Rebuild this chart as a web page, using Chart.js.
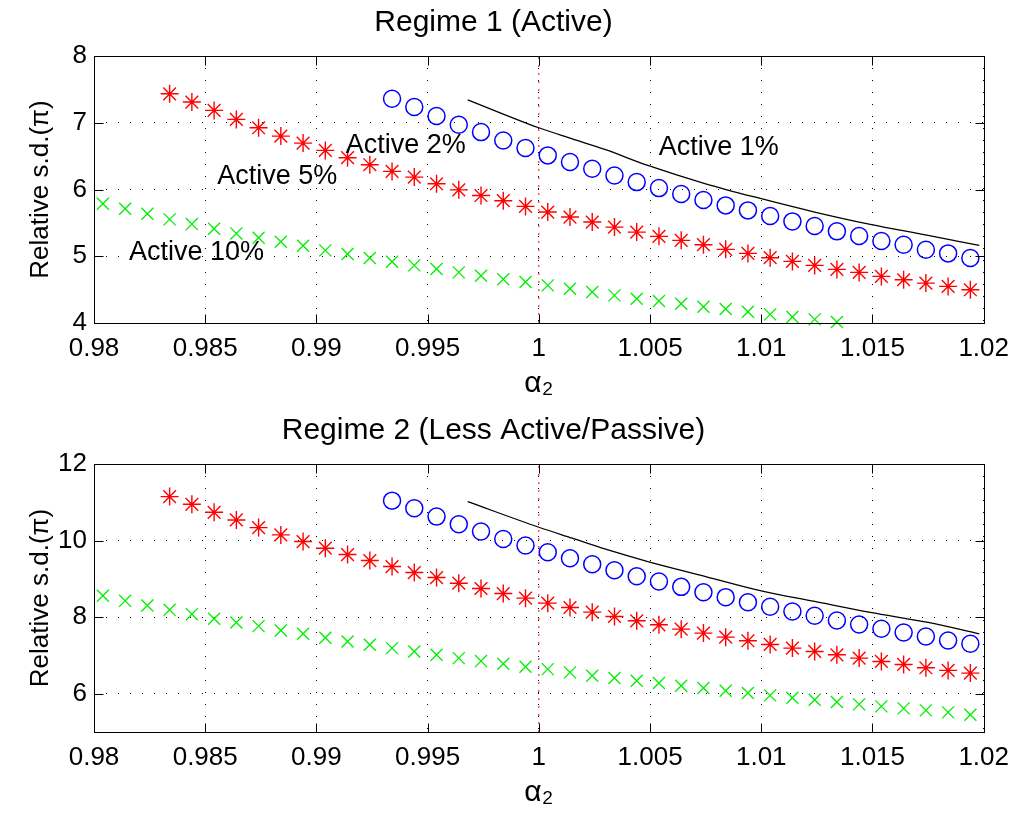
<!DOCTYPE html>
<html><head><meta charset="utf-8">
<script src="https://cdn.jsdelivr.net/npm/chart.js@4/dist/chart.umd.min.js"></script>
<style>
html,body{margin:0;padding:0;background:#fff;width:1019px;height:819px;overflow:hidden}
canvas{position:absolute;left:0}
#c1{top:0}
#c2{top:408px}
</style></head><body>
<canvas id="c1" width="1019" height="408"></canvas>
<canvas id="c2" width="1019" height="411"></canvas>
<script>
// ---- data ----
const alphaX10 = [0.9804,0.9814,0.9824,0.9834,0.9844,0.9854,0.9864,0.9874,0.9884,0.9894,0.9904,0.9914,0.9924,0.9934,0.9944,0.9954,0.9964,0.9974,0.9984,0.9994,1.0004,1.0014,1.0024,1.0034,1.0044,1.0054,1.0064,1.0074,1.0084,1.0094,1.0104,1.0114,1.0124,1.0134,1.0144,1.0154,1.0164,1.0174,1.0184,1.0194];
const alphaX5 = [0.9834,0.9844,0.9854,0.9864,0.9874,0.9884,0.9894,0.9904,0.9914,0.9924,0.9934,0.9944,0.9954,0.9964,0.9974,0.9984,0.9994,1.0004,1.0014,1.0024,1.0034,1.0044,1.0054,1.0064,1.0074,1.0084,1.0094,1.0104,1.0114,1.0124,1.0134,1.0144,1.0154,1.0164,1.0174,1.0184,1.0194];
const alphaX2 = [0.9934,0.9944,0.9954,0.9964,0.9974,0.9984,0.9994,1.0004,1.0014,1.0024,1.0034,1.0044,1.0054,1.0064,1.0074,1.0084,1.0094,1.0104,1.0114,1.0124,1.0134,1.0144,1.0154,1.0164,1.0174,1.0184,1.0194];
const alphaX1 = [0.9968,1.0000,1.0015,1.0030,1.0049,1.0075,1.0100,1.0124,1.0149,1.0175,1.0198];
const alphaRef = [1, 1];

// Regime 1 (Active)
const r1Active10 = [5.787,5.712,5.637,5.552,5.482,5.412,5.342,5.278,5.218,5.158,5.088,5.033,4.973,4.918,4.863,4.808,4.758,4.708,4.655,4.615,4.564,4.514,4.464,4.414,4.364,4.329,4.289,4.244,4.209,4.169,4.129,4.089,4.054,4.015];
const r1Active5 = [7.434,7.310,7.185,7.050,6.925,6.800,6.695,6.586,6.476,6.371,6.271,6.186,6.086,5.995,5.910,5.832,5.747,5.662,5.587,5.512,5.437,5.362,5.298,5.238,5.173,5.103,5.043,4.978,4.923,4.863,4.803,4.758,4.698,4.648,4.598,4.548,4.498];
const r1Active2 = [7.359,7.235,7.100,6.970,6.860,6.735,6.621,6.511,6.411,6.311,6.211,6.111,6.021,5.932,5.842,5.762,5.687,5.602,5.522,5.452,5.373,5.303,5.228,5.173,5.098,5.043,4.973];
const r1Active1 = [7.344,6.925,6.760,6.596,6.361,6.086,5.862,5.662,5.477,5.313,5.163];
const r1Ref = [4, 8];

// Regime 2 (Less Active/Passive)
const r2Active10 = [8.557,8.426,8.304,8.191,8.078,7.957,7.861,7.765,7.652,7.565,7.461,7.365,7.278,7.191,7.104,7.017,6.930,6.852,6.783,6.705,6.643,6.557,6.470,6.409,6.339,6.278,6.209,6.148,6.078,6.017,5.957,5.896,5.843,5.783,5.722,5.670,5.617,5.565,5.513,5.452];
const r2Active5 = [11.148,10.948,10.739,10.539,10.339,10.148,9.974,9.800,9.635,9.478,9.322,9.165,9.035,8.887,8.748,8.617,8.496,8.365,8.252,8.130,8.017,7.904,7.800,7.687,7.583,7.478,7.383,7.287,7.191,7.104,7.017,6.930,6.843,6.765,6.678,6.609,6.539];
const r2Active2 = [11.043,10.843,10.626,10.426,10.235,10.043,9.870,9.696,9.539,9.383,9.226,9.070,8.930,8.791,8.652,8.522,8.391,8.270,8.148,8.035,7.913,7.809,7.696,7.600,7.496,7.391,7.304];
const r2Active1 = [11.017,10.348,10.061,9.774,9.452,9.061,8.687,8.409,8.122,7.861,7.565];
const r2Ref = [5, 12];

// ticks
const xTicks = [0.98,0.985,0.99,0.995,1,1.005,1.01,1.015,1.02];
const xTickLabels = ['0.98','0.985','0.99','0.995','1','1.005','1.01','1.015','1.02'];
const r1YTicks = [4,5,6,7,8];
const r2YTicks = [6,8,10,12];

// in-plot labels (Regime 1)
const noteTexts = ['Active 1%','Active 2%','Active 5%','Active 10%'];
const noteX = [1.00809, 0.99402, 0.98824, 0.98461];
const noteY = [6.622, 6.652, 6.187, 5.049];

const titles = ['Regime 1 (Active)', 'Regime 2 (Less Active/Passive)'];
const xTitle = 'α₂';
const yTitle = 'Relative s.d.(π)';

// ---- rendering ----
const FONT = '"Liberation Sans", Arial, Helvetica, sans-serif';
Chart.defaults.font.family = FONT;
Chart.defaults.color = '#000';

const pairs = (xs, ys) => ys.map((v, i) => ({x: xs[i], y: v}));

const frameDeco = {
  id: 'frameDeco',
  afterDraw(chart, args, opts) {
    const {ctx, chartArea: a, scales: {x, y}} = chart;
    ctx.save();
    ctx.strokeStyle = '#000';
    ctx.lineWidth = 1;
    ctx.setLineDash([]);
    const L = Math.round(a.left) + 0.5, R = Math.round(a.right) + 0.5;
    const T = Math.round(a.top) + 0.5, B = Math.round(a.bottom) + 0.5;
    ctx.beginPath();
    const tl = 9;
    x.ticks.forEach(t => {
      const p = Math.round(x.getPixelForValue(t.value)) + 0.5;
      ctx.moveTo(p, B); ctx.lineTo(p, B - tl);
      ctx.moveTo(p, T); ctx.lineTo(p, T + tl);
    });
    y.ticks.forEach(t => {
      const p = Math.round(y.getPixelForValue(t.value)) + 0.5;
      ctx.moveTo(L, p); ctx.lineTo(L + tl, p);
      ctx.moveTo(R, p); ctx.lineTo(R - tl, p);
    });
    ctx.stroke();
    ctx.strokeRect(L, T, R - L, B - T);
    // annotations
    if (opts && opts.texts) {
      ctx.fillStyle = '#000';
      ctx.font = '27px ' + FONT;
      ctx.textAlign = 'center';
      ctx.textBaseline = 'middle';
      opts.texts.forEach((s, i) => {
        ctx.fillText(s, x.getPixelForValue(opts.xs[i]), y.getPixelForValue(opts.ys[i]));
      });
    }
    ctx.restore();
  }
};

function makeChart(id, title, d10, d5, d2, d1, ref, yMin, yMax, yTicks, xH, xPadB, notes) {
  const ds = [
    {data: pairs(alphaRef, ref), showLine: true, borderColor: '#ff0000', borderWidth: 1, borderDash: [2, 6], pointRadius: 0, order: 5},
    {data: pairs(alphaX1, d1), showLine: true, borderColor: '#000', borderWidth: 1.3, pointRadius: 0, cubicInterpolationMode: 'monotone', order: 4},
    {data: pairs(alphaX10, d10), pointStyle: 'crossRot', pointRadius: 8.5, borderColor: '#00ee00', backgroundColor: '#00ee00', pointBorderWidth: 1.3, order: 3},
    {data: pairs(alphaX5, d5), pointStyle: 'star', pointRadius: 9, borderColor: '#ff0000', backgroundColor: '#ff0000', pointBorderWidth: 1.4, order: 2},
    {data: pairs(alphaX2, d2), pointStyle: 'circle', pointRadius: 8.5, borderColor: '#0000ff', backgroundColor: 'rgba(0,0,0,0)', pointBorderWidth: 1.5, order: 1}
  ];
  ds.forEach(d => { d.clip = false; d.pointHoverRadius = d.pointRadius; });
  return new Chart(document.getElementById(id), {
    type: 'scatter',
    data: {datasets: ds},
    options: {
      responsive: false,
      animation: false,
      events: [],
      layout: {padding: {left: 0, right: 32, top: 0, bottom: 0}},
      plugins: {
        legend: {display: false},
        tooltip: {enabled: false},
        title: {display: true, text: title, color: '#000', font: {size: 30, weight: 'normal'}, padding: {top: 4.3, bottom: 15.7}},
        frameDeco: notes || {}
      },
      scales: {
        x: {
          type: 'linear', min: 0.98, max: 1.02,
          afterBuildTicks: s => { s.ticks = xTicks.map(v => ({value: v})); },
          afterFit: s => { s.height = xH; },
          ticks: {autoSkip: false, maxRotation: 0, padding: 10, font: {size: 26}, color: '#000',
                  callback: (v) => xTickLabels[xTicks.indexOf(v)] ?? String(v)},
          grid: {color: '#000', lineWidth: 1, drawTicks: false},
          border: {display: false, dash: [1, 11]},
          title: {display: true, text: xTitle, color: '#000', font: {size: 30}, padding: {top: 0, bottom: xPadB}}
        },
        y: {
          type: 'linear', min: yMin, max: yMax,
          afterBuildTicks: s => { s.ticks = yTicks.map(v => ({value: v})); },
          afterFit: s => { s.width = 94; },
          ticks: {padding: 7, font: {size: 26}, color: '#000', callback: v => String(v)},
          grid: {color: '#000', lineWidth: 1, drawTicks: false},
          border: {display: false, dash: [1, 11]},
          title: {display: true, text: yTitle, color: '#000', font: {size: 26}, padding: {top: 25.4, bottom: 0}}
        }
      }
    },
    plugins: [frameDeco]
  });
}

makeChart('c1', titles[0], r1Active10, r1Active5, r1Active2, r1Active1, r1Ref, 4, 8, r1YTicks, 85, 6, 
  {texts: noteTexts, xs: noteX, ys: noteY});
makeChart('c2', titles[1], r2Active10, r2Active5, r2Active2, r2Active1, r2Ref, 5, 12, r2YTicks, 87, 8, null);
</script>
</body></html>
